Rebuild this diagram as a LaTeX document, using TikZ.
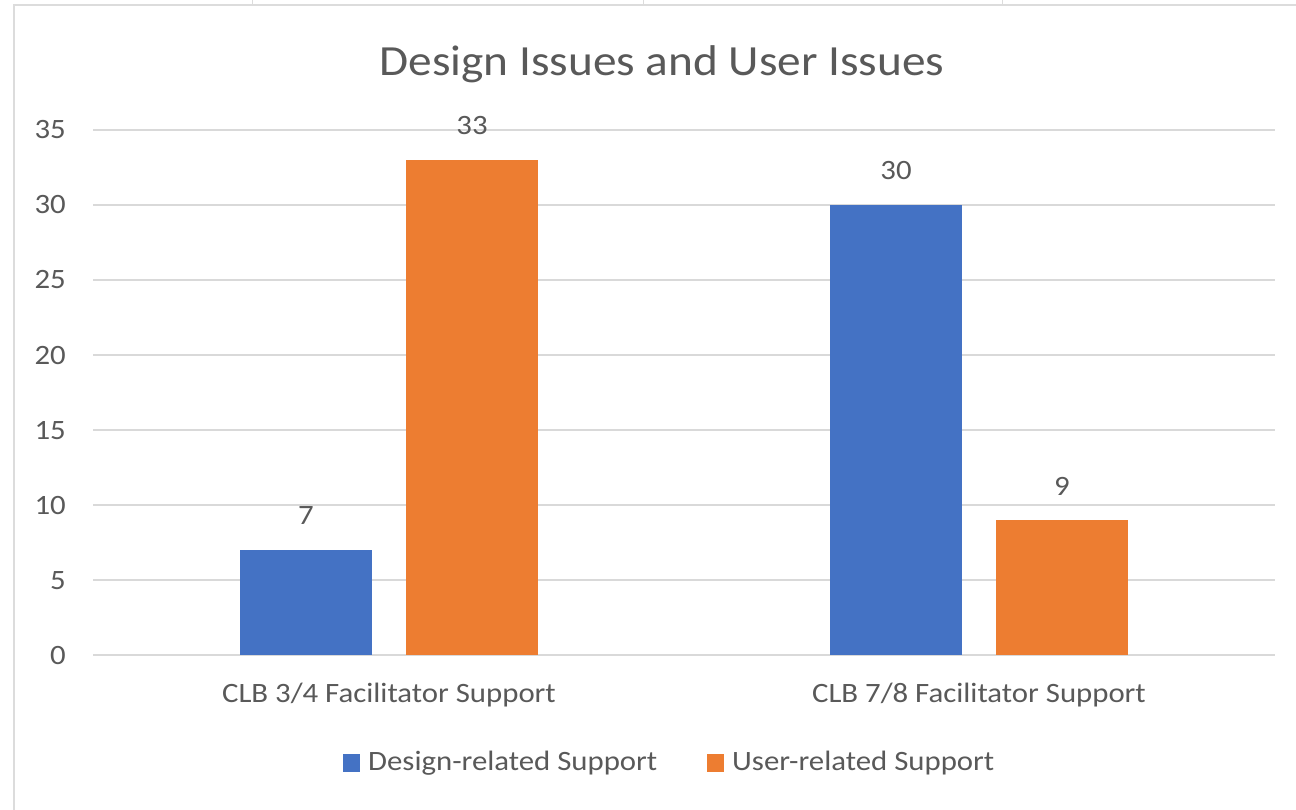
\documentclass[tikz,border=0pt]{standalone}
\usepackage{fontspec}
\setmainfont{Carlito}[FakeStretch=1.1]
\definecolor{txt}{HTML}{595959}
\definecolor{grid}{HTML}{D9D9D9}
\definecolor{frame}{HTML}{DCDCDC}
\definecolor{blueS}{HTML}{4472C4}
\definecolor{orangeS}{HTML}{ED7D31}
\tikzset{
  gridline/.style={draw=grid, line width=1.6pt},
  ylab/.style={anchor=base east, text=txt, font=\fontsize{28}{30}\selectfont, inner sep=0pt},
  vlab/.style={anchor=base, text=txt, font=\fontsize{28}{30}\selectfont, inner sep=0pt},
  catlab/.style={anchor=base, text=txt, font=\fontsize{28}{30}\selectfont, inner sep=0pt},
  leglab/.style={anchor=base west, text=txt, font=\fontsize{28}{30}\selectfont, inner sep=0pt},
  titlelab/.style={anchor=base, text=txt, font=\fontsize{43}{46}\selectfont, inner sep=0pt},
}
\begin{document}
\begin{tikzpicture}[x=1pt,y=-1pt]
\useasboundingbox (0,0) rectangle (1296,810);
\fill[white] (0,0) rectangle (1296,810);
% spreadsheet frame
\draw[frame, line width=2.2pt] (14,810) -- (14,5) -- (1296,5);
\foreach \x in {252,643,1002} \draw[frame, line width=1pt] (\x,0) -- (\x,4);
% title
\node[titlelab] (title) at (662,76) {Design Issues and User Issues};
% gridlines and y labels
\foreach \v in {0,5,...,35} {
  \draw[gridline] (93,655-15*\v) -- (1275,655-15*\v);
  \node[ylab] (y\v) at (66,655-15*\v+9) {\v};
}
% bars
\fill[blueS] (240,655) rectangle (372,550) coordinate (b1);
\fill[orangeS] (406,655) rectangle (538,160) coordinate (o1);
\fill[blueS] (830,655) rectangle (962,205) coordinate (b2);
\fill[orangeS] (996,655) rectangle (1128,520) coordinate (o2);
% value labels
\node[vlab] (v1) at (306,524) {7};
\node[vlab] (v2) at (472,135) {33};
\node[vlab] (v3) at (896,180) {30};
\node[vlab] (v4) at (1062,495) {9};
% category labels
\node[catlab] (c1) at (389,702) {CLB 3/4 Facilitator Support};
\node[catlab] (c2) at (979,702) {CLB 7/8 Facilitator Support};
% legend
\fill[blueS] (343,754) rectangle (360,772);
\node[leglab] (l1) at (368,770) {Design-related Support};
\fill[orangeS] (707,754) rectangle (724,772);
\node[leglab] (l2) at (732,770) {User-related Support};
\end{tikzpicture}
\end{document}
